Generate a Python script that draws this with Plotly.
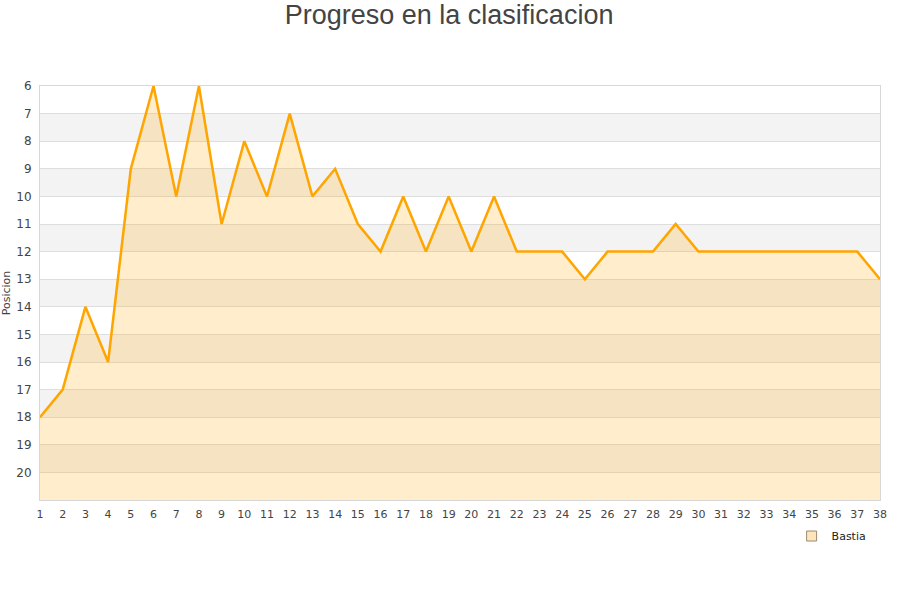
import plotly.graph_objects as go

jornadas = list(range(1, 39))
posiciones = [18, 17, 14, 16, 9, 6, 10, 6, 11, 8, 10, 7, 10, 9, 11, 12, 10, 12, 10, 12,
              10, 12, 12, 12, 13, 12, 12, 12, 11, 12, 12, 12, 12, 12, 12, 12, 12, 13]
team = "Bastia"
y_ticks = list(range(6, 21))
x_ticks = jornadas

fig = go.Figure()
fig.add_trace(go.Scatter(x=jornadas, y=[21] * len(jornadas), mode="lines",
                         line=dict(width=0), showlegend=False, hoverinfo="skip"))
fig.add_trace(go.Scatter(x=jornadas, y=posiciones, mode="lines", name=team,
                         fill="tonexty", fillcolor="rgba(255,165,0,0.2)",
                         line=dict(color="#FFA500", width=2.5), showlegend=False))
fig.add_trace(go.Scatter(x=[None], y=[None], mode="markers", name=team,
                         marker=dict(symbol="square", size=10, color="#FFE6BA",
                                     line=dict(color="#9a8a70", width=1))))

for lo in range(7, 21, 2):
    fig.add_shape(type="rect", xref="paper", x0=0, x1=1, yref="y", y0=lo, y1=lo + 1,
                  fillcolor="#f3f3f3", line=dict(width=0), layer="below")

fig.update_layout(
    width=900, height=600,
    paper_bgcolor="white", plot_bgcolor="white",
    title=dict(text="Progreso en la clasificacion", x=0.499, xanchor="center",
               y=0.975, yanchor="middle",
               font=dict(family="Liberation Sans, Arial, sans-serif", size=27, color="#444")),
    margin=dict(l=40, r=20, t=86, b=100, autoexpand=False),
    font=dict(family="DejaVu Sans, Verdana, sans-serif", size=11, color="#444"),
    xaxis=dict(range=[1, 38], tickvals=x_ticks, showgrid=False, zeroline=False,
               showline=True, linecolor="#d8d8d8", mirror=True, ticks="",
               automargin=False, ticklabelstandoff=4,
               tickfont=dict(size=11, color="#444")),
    yaxis=dict(range=[21, 6], tickvals=y_ticks, showgrid=True, gridcolor="#dedede",
               zeroline=False, showline=True, linecolor="#d8d8d8", mirror=True, ticks="",
               automargin=False, ticklabelstandoff=5,
               title=dict(text="Posicion", font=dict(size=11, color="#444"), standoff=6),
               tickfont=dict(size=12, color="#444")),
    legend=dict(x=0.99, xanchor="right", y=-0.087, yanchor="middle",
                bgcolor="rgba(0,0,0,0)", font=dict(size=11, color="#222"),
                itemwidth=30),
    showlegend=True,
)

fig.write_html("out.html", config={"displayModeBar": False},
               post_script="document.body.style.margin='0';")
